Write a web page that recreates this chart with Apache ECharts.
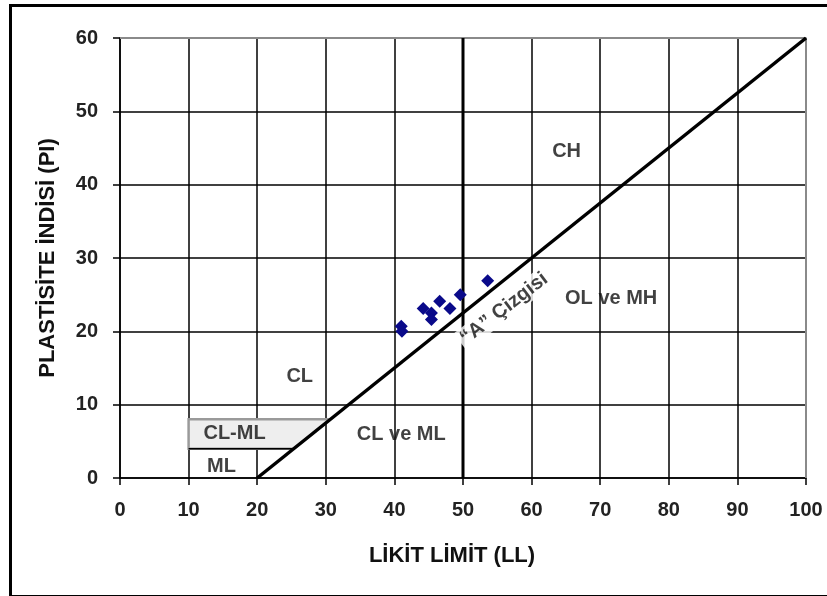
<!DOCTYPE html>
<html>
<head>
<meta charset="utf-8">
<script src="https://cdn.jsdelivr.net/npm/echarts@6/dist/echarts.min.js"></script>
<style>html,body{margin:0;padding:0;background:#fff}#c{width:827px;height:596px}</style>
</head>
<body>
<div id="c"></div>
<script>
// ---- data ----
var xTicks = [0, 10, 20, 30, 40, 50, 60, 70, 80, 90, 100];
var yTicks = [0, 10, 20, 30, 40, 50, 60];
var sampleLL = [41.0, 41.1, 44.2, 45.4, 45.4, 46.6, 48.1, 49.6, 53.6];
var samplePI = [20.7, 20.0, 23.1, 22.5, 21.6, 24.1, 23.1, 25.0, 26.9];
var aLineLL = [20, 100];
var aLinePI = [0, 60];
var dividerLL = [50, 50];
var dividerPI = [0, 60];
var clmlLL = 10;          // left edge of CL-ML zone
var clmlPI = [4, 8];      // bottom / top of CL-ML zone
var regionNames = ['CH', 'OL ve MH', 'CL', 'CL ve ML', 'CL-ML', 'ML'];
var regionLL = [65.1, 71.6, 26.2, 41.0, 16.7, 14.8];
var regionPI = [44.5, 24.5, 13.8, 5.9, 6.1, 1.6];
var aLabelText = '\u201CA\u201D \u00C7izgisi';
var aLabelLL = 56.0, aLabelPI = 23.1;

// A-line as function from its two points
function aLineAt(pi) {
  return aLineLL[0] + (pi - aLinePI[0]) * (aLineLL[1] - aLineLL[0]) / (aLinePI[1] - aLinePI[0]);
}
var clmlPoly = [
  [clmlLL, clmlPI[0]], [clmlLL, clmlPI[1]],
  [aLineAt(clmlPI[1]), clmlPI[1]], [aLineAt(clmlPI[0]), clmlPI[0]]
];
var xMax = xTicks[xTicks.length - 1], yMax = yTicks[yTicks.length - 1];

var FONT = '"Liberation Sans", Arial, sans-serif';
var chart = echarts.init(document.getElementById('c'), null, {renderer: 'canvas'});
var option = {
  animation: false,
  backgroundColor: '#fff',
  grid: {left: 120, right: 21, top: 38, bottom: 118, containLabel: false},
  xAxis: {
    type: 'value', min: xTicks[0], max: xMax, interval: 10,
    name: 'L\u0130K\u0130T L\u0130M\u0130T (LL)', nameLocation: 'middle', nameGap: 67,
    nameTextStyle: {fontFamily: FONT, fontWeight: 'bold', fontSize: 22, color: '#111', padding: [0, 22, 0, 0]},
    axisLine: {show: true, onZero: false, lineStyle: {color: '#000', width: 1.5}},
    axisTick: {show: true, length: 7, lineStyle: {color: '#000', width: 1.5}},
    axisLabel: {margin: 22, fontFamily: FONT, fontWeight: 'bold', fontSize: 20, color: '#222'},
    splitLine: {show: true, lineStyle: {color: '#000', width: 1.5}}
  },
  yAxis: {
    type: 'value', min: yTicks[0], max: yMax, interval: 10,
    name: 'PLAST\u0130S\u0130TE \u0130ND\u0130S\u0130 (PI)', nameLocation: 'middle', nameGap: 61,
    nameTextStyle: {fontFamily: FONT, fontWeight: 'bold', fontSize: 22, color: '#111'},
    axisLine: {show: true, onZero: false, lineStyle: {color: '#000', width: 1.5}},
    axisTick: {show: true, length: 7, lineStyle: {color: '#000', width: 1.5}},
    axisLabel: {margin: 22, fontFamily: FONT, fontWeight: 'bold', fontSize: 20, color: '#222'},
    splitLine: {show: true, lineStyle: {color: '#000', width: 1.5}}
  },
  graphic: [{
    type: 'rect', left: 8, top: 3, z: 100,
    shape: {x: 0, y: 0, width: 830, height: 591},
    style: {fill: 'none', stroke: '#000', lineWidth: 3}
  }],
  series: [
    {
      type: 'line', name: 'plot edge', z: 2, symbol: 'none', silent: true,
      data: [[xTicks[0], yMax], [xMax, yMax], [xMax, yTicks[0]]],
      lineStyle: {color: '#8a8a8a', width: 2}
    },
    {
      type: 'custom', name: 'CL-ML zone', z: 3,
      renderItem: function (params, api) {
        var pts = clmlPoly.map(function (p) { return api.coord(p); });
        return {
          type: 'polygon', shape: {points: pts},
          style: {fill: '#eeeeee', stroke: '#9a9a9a', lineWidth: 2.5}
        };
      },
      data: [0], silent: true
    },
    {
      type: 'line', name: 'CL-ML bottom', z: 4, symbol: 'none', silent: true,
      data: [clmlPoly[0], clmlPoly[3]],
      lineStyle: {color: '#000', width: 1.5}
    },
    {
      type: 'line', name: 'LL50', z: 5, symbol: 'none', silent: true,
      data: dividerLL.map(function (v, i) { return [v, dividerPI[i]]; }),
      lineStyle: {color: '#000', width: 3}
    },
    {
      type: 'scatter', name: 'A label', z: 6, symbolSize: 0, silent: true,
      label: {
        show: true, position: 'inside', rotate: 37.5, formatter: function (p) { return p.name; },
        fontFamily: FONT, fontWeight: 'bold', fontSize: 20, color: '#111',
        backgroundColor: '#fff', padding: [1, 3]
      },
      data: [{name: aLabelText, value: [aLabelLL, aLabelPI]}]
    },
    {
      type: 'line', name: 'A line', z: 7, symbol: 'none', silent: true,
      data: aLineLL.map(function (v, i) { return [v, aLinePI[i]]; }),
      lineStyle: {color: '#000', width: 3.5}
    },
    {
      type: 'scatter', name: 'samples', z: 8, symbol: 'diamond', symbolSize: 13,
      itemStyle: {color: '#0a0a8a', opacity: 1},
      data: sampleLL.map(function (v, i) { return [v, samplePI[i]]; })
    },
    {
      type: 'scatter', name: 'regions', z: 9, symbolSize: 0, silent: true,
      label: {
        show: true, position: 'inside', formatter: function (p) { return p.name; },
        fontFamily: FONT, fontWeight: 'bold', fontSize: 20, color: '#111'
      },
      data: regionNames.map(function (n, i) { return {name: n, value: [regionLL[i], regionPI[i]]}; })
    }
  ]
};
chart.setOption(option);
</script>
</body>
</html>
